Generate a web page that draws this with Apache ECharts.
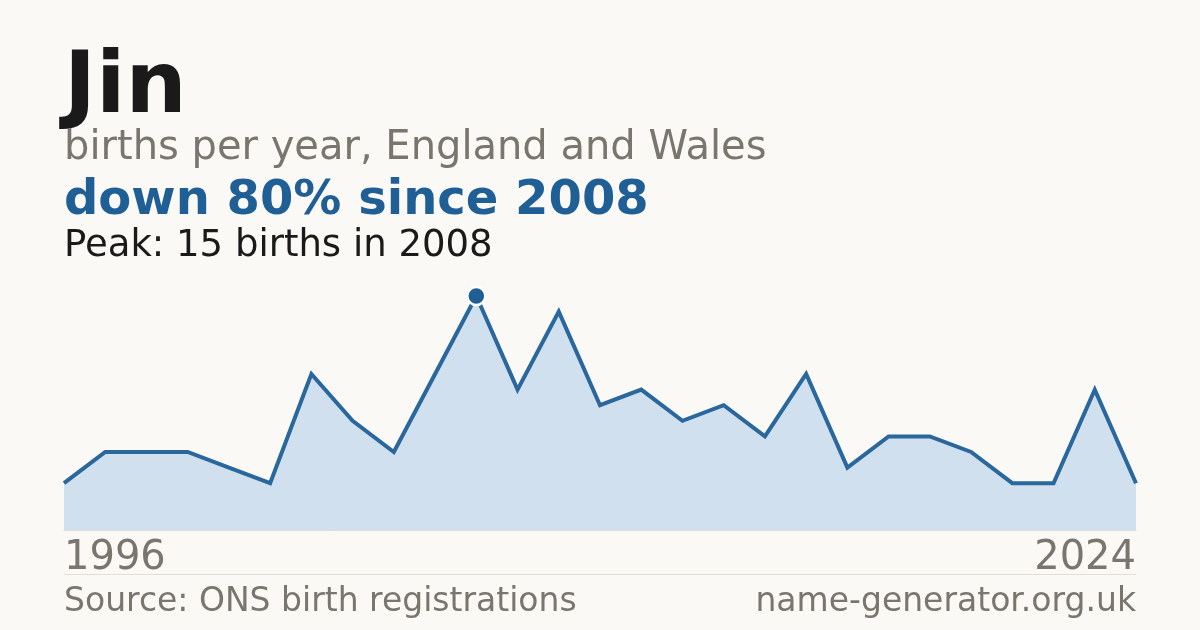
<!DOCTYPE html>
<html>
<head>
<meta charset="utf-8">
<script src="https://cdn.jsdelivr.net/npm/echarts@6/dist/echarts.min.js"></script>
<style>
html,body{margin:0;padding:0;background:#faf9f5;}
#c{width:1200px;height:630px;}
</style>
</head>
<body>
<div id="c"></div>
<script>
const years = ['1996','1997','1998','2000','2001','2003','2004','2005','2006','2007','2008','2009','2010','2011','2012','2013','2014','2015','2016','2017','2018','2019','2020','2021','2022','2023','2024'];
const births = [3,5,5,5,4,3,10,7,5,10,15,9,14,8,9,7,8,6,10,4,6,6,5,3,3,9,3];
const titleText = 'Jin';
const subtitleText = 'births per year, England and Wales';
const changeText = 'down 80% since 2008';
const peakText = 'Peak: 15 births in 2008';
const sourceText = 'Source: ONS birth registrations';
const siteText = 'name-generator.org.uk';

const FONT = '"DejaVu Sans", sans-serif';
const GREY = '#7a756d';
const BLUE = '#1f5f96';
const peakIdx = births.indexOf(Math.max(...births));
const seriesData = births.map((v, i) => i === peakIdx
  ? { value: v, symbol: 'circle', symbolSize: 18, itemStyle: { color: BLUE, borderColor: '#ffffff', borderWidth: 2.5 } }
  : { value: v });

const chart = echarts.init(document.getElementById('c'), null, { renderer: 'canvas' });
chart.setOption({
  backgroundColor: '#faf9f5',
  animation: false,
  grid: { left: 64, right: 64, top: 296, bottom: 100 },
  xAxis: {
    type: 'category',
    data: years,
    boundaryGap: false,
    axisTick: { show: false },
    axisLine: { show: true, lineStyle: { color: '#e2ded6', width: 1 } },
    axisLabel: {
      interval: (i) => i === 0 || i === years.length - 1,
      margin: 9,
      fontFamily: FONT,
      fontSize: 40,
      color: GREY,
      alignMinLabel: 'left',
      alignMaxLabel: 'right'
    },
    splitLine: { show: false }
  },
  yAxis: {
    type: 'value',
    min: 0,
    max: 15,
    show: false
  },
  series: [{
    type: 'line',
    data: seriesData,
    symbol: 'none',
    showSymbol: true,
    silent: true,
    lineStyle: { color: '#2a679c', width: 4, join: 'miter' },
    areaStyle: { color: '#d0e0ef', opacity: 1 },
    z: 3
  }],
  graphic: [
    { type: 'text', left: 64, top: 47, style: { text: titleText, font: 'bold 86px ' + FONT, fill: '#1a1a1a' } },
    { type: 'text', left: 64, top: 129, style: { text: subtitleText, font: '40px ' + FONT, fill: GREY } },
    { type: 'text', left: 64, top: 178, style: { text: changeText, font: 'bold 48px ' + FONT, fill: BLUE } },
    { type: 'text', left: 64, top: 228, style: { text: peakText, font: '37px ' + FONT, fill: '#1a1a1a' } },
    { type: 'line', shape: { x1: 64, y1: 574.5, x2: 1136, y2: 574.5 }, style: { stroke: '#e2ded6', lineWidth: 1 } },
    { type: 'text', left: 64, top: 586, style: { text: sourceText, font: '33px ' + FONT, fill: GREY } },
    { type: 'text', right: 64, top: 586, style: { text: siteText, font: '33px ' + FONT, fill: GREY } }
  ]
});
</script>
</body>
</html>
